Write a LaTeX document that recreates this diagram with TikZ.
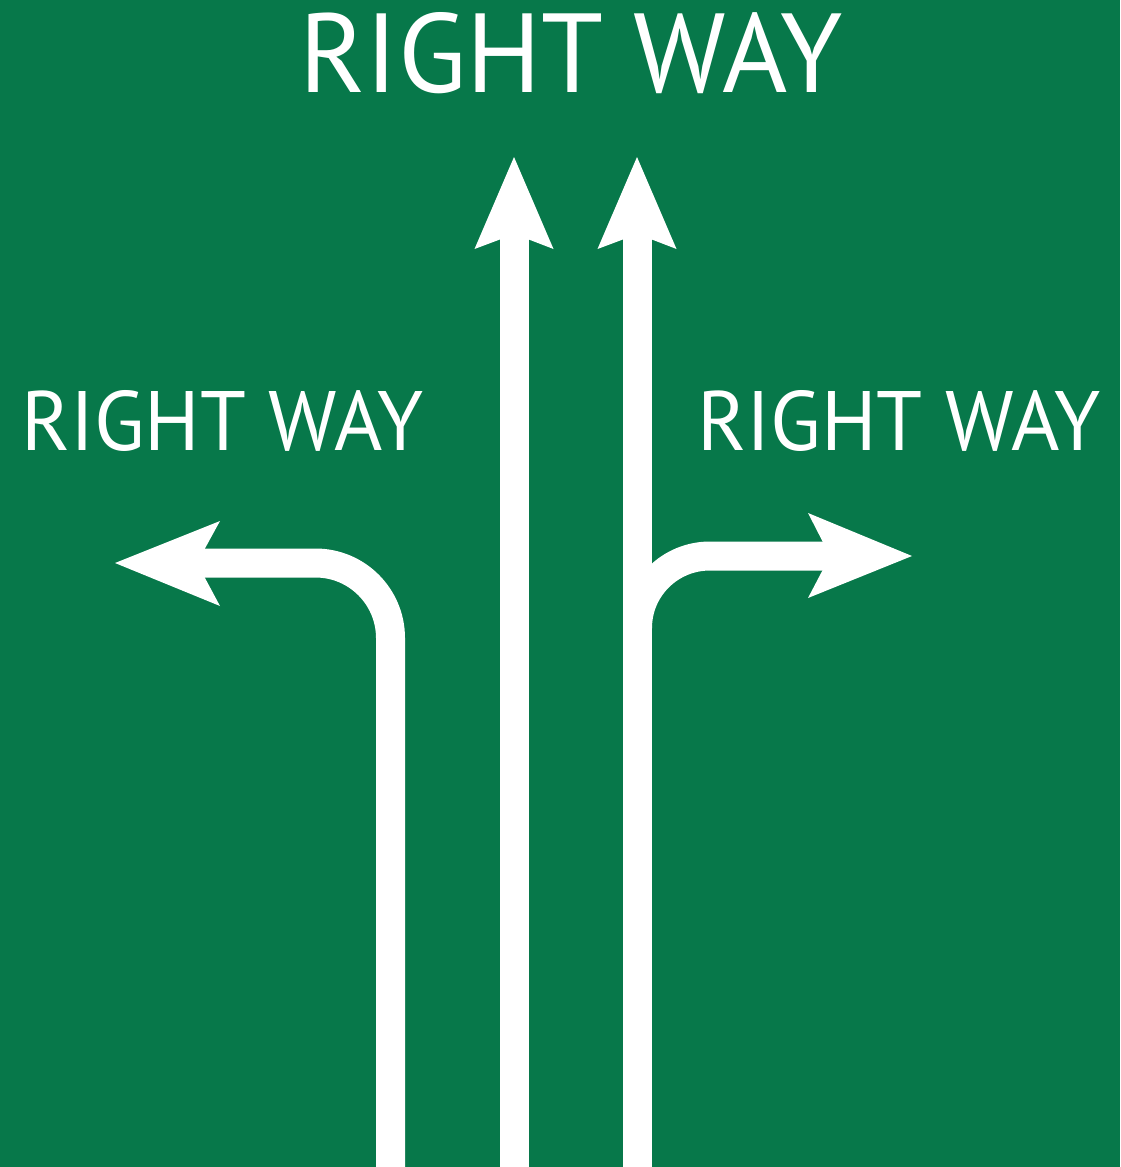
\documentclass[tikz,border=0pt]{standalone}
\usepackage{fontspec}
\usepackage{graphicx}
\setmainfont{PT Sans}
\definecolor{signgreen}{RGB}{7,120,74}
\tikzset{
  lane/.style={draw=white, line width=29pt},
  head/.style={fill=white, draw=none},
  label/.style={text=white, inner sep=0pt, anchor=south west}
}
\begin{document}
\begin{tikzpicture}[x=1pt, y=-1pt]
\fill[signgreen] (0,0) rectangle (1120,1167);
\useasboundingbox (0,0) rectangle (1120,1167);
% labels
\node[label] (top) at (299,94) {\resizebox{543pt}{80pt}{RIGHT WAY}};
\node[label] (lefttxt) at (21,452) {\resizebox{402pt}{60pt}{RIGHT WAY}};
\node[label] (righttxt) at (697,452) {\resizebox{403pt}{60pt}{RIGHT WAY}};
% coordinates
\coordinate (lb) at (390.5,1170);
\coordinate (lc) at (390.5,638);
\coordinate (le) at (315.5,563);
\coordinate (ln) at (180,563);
\coordinate (mb) at (514.5,1170);
\coordinate (mn) at (514.5,215);
\coordinate (rb) at (637.5,1170);
\coordinate (rn) at (637.5,215);
\coordinate (rc) at (637.5,628);
\coordinate (re) at (710,556);
\coordinate (rnn) at (845,556);
% lanes
\draw[lane] (lb) -- (lc) .. controls (390.5,596.6) and (356.9,563) .. (le) -- (ln);
\draw[lane] (mb) -- (mn);
\draw[lane] (rb) -- (rn);
\draw[lane] (rc) .. controls (637.5,588) and (670,556) .. (re) -- (rnn);
% heads
\fill[head] (514,157) -- (553.5,249) -- (514.5,234) -- (474.5,249) -- cycle;
\fill[head] (637,157) -- (676.5,249) -- (637.5,234) -- (597.5,249) -- cycle;
\fill[head] (115,563) -- (220,521) -- (197,563) -- (220,606) -- cycle;
\fill[head] (912,556) -- (808,513) -- (830,556) -- (808,598) -- cycle;
\end{tikzpicture}
\end{document}
